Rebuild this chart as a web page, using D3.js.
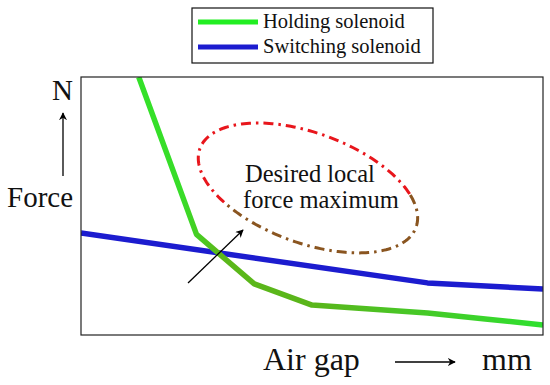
<!DOCTYPE html>
<html>
<head>
<meta charset="utf-8">
<script src="https://cdn.jsdelivr.net/npm/d3@7"></script>
<style>
  body { margin: 0; background: #fff; }
  text { font-family: "Liberation Serif", serif; fill: #111; }
</style>
</head>
<body>
<div id="chart"></div>
<script>
// air gap in arbitrary units, force in arbitrary units (no ticks on the original)
var holdingGap = [1, 2, 3, 4, 5, 6, 7, 8];
var holdingForce = [100, 39, 19.8, 11.6, 10.1, 8.5, 6.2, 3.9];
var switchingGap = [0, 6, 8];
var switchingForce = [39.5, 20.2, 17.8];
var seriesNames = ["Holding solenoid", "Switching solenoid"];

// the dash-dot ellipse marking the wanted local maximum
var bumpCenter = [3.93, 57];

var svgWidth = 550;
var svgHeight = 385;

var margin = { top: 77, right: 7, bottom: 50, left: 81 };
var width = svgWidth - margin.left - margin.right;
var height = svgHeight - margin.top - margin.bottom;

var svg = d3.select("#chart")
  .append("svg")
  .attr("width", svgWidth)
  .attr("height", svgHeight);

var x = d3.scaleLinear().domain([0, 8]).range([margin.left, margin.left + width]);
var y = d3.scaleLinear().domain([0, 100]).range([margin.top + height, margin.top]);

var defs = svg.append("defs");

defs.append("clipPath")
  .attr("id", "plotClip")
  .append("rect")
  .attr("x", margin.left)
  .attr("y", margin.top)
  .attr("width", width)
  .attr("height", height);

// green line changes tint along its length in the original
var grad = defs.append("linearGradient")
  .attr("id", "greenGrad")
  .attr("gradientUnits", "userSpaceOnUse")
  .attr("x1", margin.left).attr("x2", margin.left + width)
  .attr("y1", 0).attr("y2", 0);
[[0, "#2ee82a"], [0.22, "#38dc28"], [0.3, "#5bb81a"], [0.5, "#5ab51a"], [0.7, "#49c626"], [1, "#2fe02f"]]
  .forEach(function(s) {
    grad.append("stop").attr("offset", s[0]).attr("stop-color", s[1]);
  });

defs.append("marker")
  .attr("id", "head")
  .attr("viewBox", "0 0 10 10")
  .attr("refX", 9).attr("refY", 5)
  .attr("markerWidth", 8).attr("markerHeight", 8)
  .attr("markerUnits", "userSpaceOnUse")
  .attr("orient", "auto")
  .append("path")
  .attr("d", "M0,0 L10,5 L0,10 L3,5 Z")
  .attr("fill", "#000");

var plot = svg.append("g").attr("clip-path", "url(#plotClip)");

var line = d3.line()
  .x(d => x(d[0]))
  .y(d => y(d[1]));

var switching = switchingGap.map((g, i) => [g, switchingForce[i]]);
var holding = holdingGap.map((g, i) => [g, holdingForce[i]]);

plot.append("path")
  .datum(switching)
  .attr("d", line)
  .attr("fill", "none")
  .attr("stroke", "#1c1ccf")
  .attr("stroke-width", 5.5)
  .attr("stroke-linejoin", "round");

plot.append("path")
  .datum(holding)
  .attr("d", line)
  .attr("fill", "none")
  .attr("stroke", "url(#greenGrad)")
  .attr("stroke-width", 5.5)
  .attr("stroke-linejoin", "round");

// ellipse, drawn as two dash-dot arcs (red on top, brown below)
var rx = 115, ry = 55, tilt = 20 * Math.PI / 180;
var cx = x(bumpCenter[0]), cy = y(bumpCenter[1]);
function arc(t0, t1) {
  return d3.range(0, 121).map(function(k) {
    var t = (t0 + (t1 - t0) * k / 120) * Math.PI / 180;
    var ex = rx * Math.cos(t), ey = ry * Math.sin(t);
    return [cx + ex * Math.cos(tilt) - ey * Math.sin(tilt),
            cy + ex * Math.sin(tilt) + ey * Math.cos(tilt)];
  });
}
var rawLine = d3.line();
svg.append("path")
  .attr("d", rawLine(arc(130, 329)))
  .attr("fill", "none")
  .attr("stroke", "#e8161c")
  .attr("stroke-width", 3)
  .attr("stroke-dasharray", "10 5 2.5 5");
svg.append("path")
  .attr("d", rawLine(arc(-31, 130)))
  .attr("fill", "none")
  .attr("stroke", "#8a5520")
  .attr("stroke-width", 3)
  .attr("stroke-dasharray", "10 5 2.5 5");

svg.append("text")
  .attr("x", 245).attr("y", 182)
  .attr("font-size", 24.5)
  .text("Desired local");
svg.append("text")
  .attr("x", 243).attr("y", 208)
  .attr("font-size", 24.5)
  .text("force maximum");

// pointer arrow to the ellipse
svg.append("line")
  .attr("x1", 188).attr("y1", 283)
  .attr("x2", 243).attr("y2", 230)
  .attr("stroke", "#000")
  .attr("stroke-width", 1.3)
  .attr("marker-end", "url(#head)");

// plot frame
svg.append("rect")
  .attr("x", margin.left)
  .attr("y", margin.top)
  .attr("width", width)
  .attr("height", height)
  .attr("fill", "none")
  .attr("stroke", "#222")
  .attr("stroke-width", 1.2);

// axis labels
svg.append("text").attr("x", 52).attr("y", 100).attr("font-size", 29).text("N");
svg.append("text").attr("x", 7).attr("y", 207).attr("font-size", 29).text("Force");
svg.append("line")
  .attr("x1", 63).attr("y1", 176).attr("x2", 63).attr("y2", 113)
  .attr("stroke", "#000").attr("stroke-width", 1.3)
  .attr("marker-end", "url(#head)");

svg.append("text").attr("x", 263).attr("y", 370).attr("font-size", 32).text("Air gap");
svg.append("text").attr("x", 482).attr("y", 370).attr("font-size", 32).text("mm");
svg.append("line")
  .attr("x1", 395).attr("y1", 362).attr("x2", 455).attr("y2", 362)
  .attr("stroke", "#000").attr("stroke-width", 1.3)
  .attr("marker-end", "url(#head)");

// legend
var legend = svg.append("g");
legend.append("rect")
  .attr("x", 192).attr("y", 8)
  .attr("width", 241).attr("height", 55)
  .attr("fill", "#fff")
  .attr("stroke", "#111")
  .attr("stroke-width", 1.2);

var legendColors = ["#22ee22", "#1c1ccf"];
seriesNames.forEach(function(name, i) {
  var ly = 22 + i * 25;
  legend.append("line")
    .attr("x1", 198).attr("x2", 258)
    .attr("y1", ly).attr("y2", ly)
    .attr("stroke", legendColors[i])
    .attr("stroke-width", 5);
  legend.append("text")
    .attr("x", 263).attr("y", ly + 6)
    .attr("font-size", 20.5)
    .text(name);
});
</script>
</body>
</html>
